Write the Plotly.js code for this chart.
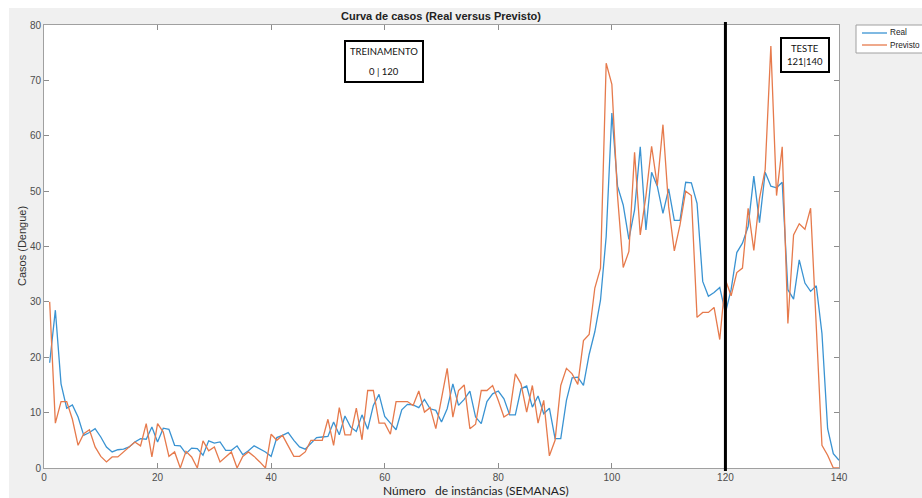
<!DOCTYPE html>
<html>
<head>
<meta charset="utf-8">
<script src="https://cdn.plot.ly/plotly-3.0.1.min.js"></script>
<style>html,body{margin:0;padding:0;background:#f0f0f0;}#chart{width:922px;height:498px;}</style>
</head>
<body>
<div id="chart"></div>
<script>
// Series names
const seriesNames = ["Real", "Previsto"];

// Real (observed) weekly cases, weeks 1..140
const real = [
  19, 28.5, 15.2, 10.8, 11.4, 9.2, 5.9, 6.4, 7.1, 5.6,
  3.8, 2.9, 3.3, 3.4, 3.8, 4.7, 5.3, 5.2, 7.4, 4.7,
  7.2, 7.0, 4.1, 4.0, 2.6, 3.6, 3.5, 2.3, 4.9, 4.5,
  4.7, 3.2, 3.2, 4.0, 2.4, 3.1, 4.0, 3.5, 2.9, 2.1,
  5.5, 5.9, 6.4, 5.0, 3.8, 3.4, 4.4, 5.5, 5.6, 5.7,
  8.3, 6.0, 9.4, 7.4, 6.6, 9.6, 7.0, 11.3, 13.3, 9.3,
  8.1, 6.9, 10.5, 11.5, 11.4, 10.9, 12.4, 10.7, 10.4, 8.3,
  10.7, 15.2, 11.3, 12.4, 13.9, 9.2, 8.0, 12.0, 13.4, 13.9,
  12.5, 9.6, 9.6, 14.3, 14.8, 11.0, 13.0, 9.8, 10.8, 5.3,
  5.3, 12.2, 16.3, 16.4, 14.9, 20.5, 24.6, 30.3, 41.8, 64.1,
  50.9, 47.5, 41.3, 46.6, 58.0, 43.0, 53.4, 50.9, 46.0, 50.4,
  44.7, 44.7, 51.6, 51.5, 47.8, 33.7, 31.0, 31.7, 32.6, 28.0,
  32.2, 38.9, 40.6, 43.6, 52.7, 44.3, 53.4, 50.9, 50.6, 51.6,
  32.2, 30.5, 37.6, 33.4, 31.9, 32.9, 24.3, 7.1, 2.6, 1.4
];

// Predicted weekly cases, weeks 1..140
const previsto = [
  30, 8.1, 12, 12, 8.8, 4.1, 6.2, 6.9, 3.8, 2.1,
  1.1, 2.0, 2.0, 2.9, 3.8, 4.7, 4.0, 8.0, 2.0, 8.0,
  6.5, 2.1, 2.9, 0, 3.0, 2.0, 0, 4.9, 3.1, 3.8,
  1.1, 2.0, 2.9, 0, 2.1, 2.9, 2.1, 1.1, 0, 6.1,
  5.0, 5.9, 4.1, 2.1, 2.1, 2.9, 5.0, 5.0, 5.0, 8.8,
  4.1, 10.9, 6.0, 6.0, 10.8, 5.1, 14.0, 14.0, 8.1, 8.1,
  6.1, 12.0, 12.0, 12.0, 11.3, 13.9, 10.1, 10.9, 7.1, 12.3,
  18.0, 9.2, 14.0, 15.0, 7.1, 7.9, 14.0, 14.0, 14.9, 12.2,
  9.2, 9.9, 17.0, 15.2, 10.1, 14.9, 8.1, 12.2, 2.2, 5.0,
  14.9, 18.0, 17.0, 15.1, 23.0, 24.1, 32.5, 36.1, 73.1, 69.3,
  49.1, 36.2, 39.1, 57.0, 42.1, 49.1, 58.1, 51.0, 62.0, 47.2,
  39.2, 43.9, 50.0, 49.2, 27.2, 28.1, 28.1, 29.0, 23.2, 34.0,
  31.1, 35.3, 36.1, 46.9, 39.3, 48.7, 53.9, 76.2, 49.2, 58.0,
  26.1, 42.1, 44.1, 43.1, 46.9, 25.5, 4.1, 2.3, 0, 0
];

// Week index (x positions)
const semanas = real.map((_, i) => i + 1);

// Axis ticks
const xTicks = [0, 20, 40, 60, 80, 100, 120, 140];
const yTicks = [0, 10, 20, 30, 40, 50, 60, 70, 80];

// Split point between training and test
const splitWeek = 120;

// Text labels
const titleText = "Curva de casos (Real versus Previsto)";
const xTitle = "Número\u00a0\u00a0 de instâncias (SEMANAS)";
const yTitle = "Casos (Dengue)";
const trainLabel = ["TREINAMENTO", "0 | 120"];
const testLabel = ["TESTE", "121|140"];

const colors = ["#3a93d2", "#e67a4c"];

// helpers to convert pixels to paper coords (plot area: x 44..839, y 25..468)
const L = 44, R = 839, T = 25, B = 468;
const px = v => (v - L) / (R - L);
const py = v => (B - v) / (B - T);

const traces = [
  {x: semanas, y: real, type: "scatter", mode: "lines", name: seriesNames[0],
   line: {color: colors[0], width: 1.3}, showlegend: false},
  {x: semanas, y: previsto, type: "scatter", mode: "lines", name: seriesNames[1],
   line: {color: colors[1], width: 1.3}, showlegend: false}
];

const axisFont = {family: "Liberation Sans, Arial, sans-serif", size: 10, color: "#4d4d4d"};
const boxFont = {family: "Lato, sans-serif", size: 9.5, color: "#111"};
const legFont = {family: "Liberation Sans, Arial, sans-serif", size: 8.2, color: "#222"};

const shapes = [
  // white band at top and left (outside figure)
  {type: "rect", xref: "paper", yref: "paper", x0: px(-5), x1: px(930), y0: py(8), y1: py(-5),
   fillcolor: "#ffffff", line: {width: 0}, layer: "below"},
  {type: "rect", xref: "paper", yref: "paper", x0: px(-5), x1: px(9), y0: py(505), y1: py(-5),
   fillcolor: "#ffffff", line: {width: 0}, layer: "below"},
  // split line
  {type: "line", xref: "x", yref: "paper", x0: splitWeek, x1: splitWeek, y0: py(471), y1: py(22),
   line: {color: "#000", width: 3}, layer: "above"},
  // TREINAMENTO box
  {type: "rect", xref: "paper", yref: "paper", x0: px(345), x1: px(423), y0: py(82), y1: py(41),
   fillcolor: "#ffffff", line: {color: "#000", width: 2}, layer: "above"},
  // TESTE box
  {type: "rect", xref: "paper", yref: "paper", x0: px(781), x1: px(829), y0: py(72), y1: py(38),
   fillcolor: "#ffffff", line: {color: "#000", width: 2}, layer: "above"},
  // legend box
  {type: "rect", xref: "paper", yref: "paper", x0: px(856), x1: px(935), y0: py(53), y1: py(25),
   fillcolor: "#ffffff", line: {color: "#a0a0a0", width: 1}, layer: "above"},
  {type: "line", xref: "paper", yref: "paper", x0: px(862), x1: px(887), y0: py(33), y1: py(33),
   line: {color: colors[0], width: 1.3}, layer: "above"},
  {type: "line", xref: "paper", yref: "paper", x0: px(862), x1: px(887), y0: py(45), y1: py(45),
   line: {color: colors[1], width: 1.3}, layer: "above"}
];

const annotations = [
  {text: xTitle, xref: "paper", yref: "paper", x: px(476), y: py(491), showarrow: false,
   xanchor: "center", yanchor: "middle", font: {family: "Lato, sans-serif", size: 12, color: "#222"}},
  {text: yTitle, xref: "paper", yref: "paper", x: px(22), y: py(246), showarrow: false, textangle: -90,
   xanchor: "center", yanchor: "middle", font: {family: "Liberation Sans, Arial, sans-serif", size: 11, color: "#333"}},
  {text: trainLabel[0], xref: "paper", yref: "paper", x: px(384), y: py(51), showarrow: false,
   xanchor: "center", yanchor: "middle", font: boxFont},
  {text: trainLabel[1], xref: "paper", yref: "paper", x: px(384), y: py(72), showarrow: false,
   xanchor: "center", yanchor: "middle", font: boxFont},
  {text: testLabel[0], xref: "paper", yref: "paper", x: px(805), y: py(48.5), showarrow: false,
   xanchor: "center", yanchor: "middle", font: boxFont},
  {text: testLabel[1], xref: "paper", yref: "paper", x: px(805), y: py(61), showarrow: false,
   xanchor: "center", yanchor: "middle", font: boxFont},
  {text: seriesNames[0], xref: "paper", yref: "paper", x: px(888), y: py(33), showarrow: false,
   xanchor: "left", yanchor: "middle", font: legFont},
  {text: seriesNames[1], xref: "paper", yref: "paper", x: px(888), y: py(45), showarrow: false,
   xanchor: "left", yanchor: "middle", font: legFont}
];

const layout = {
  width: 922, height: 498,
  paper_bgcolor: "#f0f0f0", plot_bgcolor: "#ffffff",
  margin: {l: L, r: 922 - R, t: T, b: 498 - B, pad: 0, autoexpand: false},
  showlegend: false,
  title: {text: "<b>" + titleText + "</b>", x: 441 / 922, xanchor: "center", xref: "container",
          y: 1 - 16 / 498, yanchor: "middle", yref: "container",
          font: {family: "Liberation Sans, Arial, sans-serif", size: 11, color: "#222"}},
  xaxis: {range: [0, 140], tickvals: xTicks, ticktext: xTicks.map(String), ticks: "inside", ticklen: 5,
          tickcolor: "#8c8c8c", showline: true, linecolor: "#a0a0a0", linewidth: 1, mirror: "ticks",
          showgrid: false, zeroline: false, tickfont: axisFont, fixedrange: true},
  yaxis: {range: [0, 80], tickvals: yTicks, ticktext: yTicks.map(String), ticks: "inside", ticklen: 5,
          tickcolor: "#8c8c8c", showline: true, linecolor: "#a0a0a0", linewidth: 1, mirror: "ticks",
          showgrid: false, zeroline: false, tickfont: axisFont, fixedrange: true},
  shapes: shapes,
  annotations: annotations
};

Plotly.newPlot("chart", traces, layout, {displayModeBar: false, staticPlot: true});
</script>
</body>
</html>
